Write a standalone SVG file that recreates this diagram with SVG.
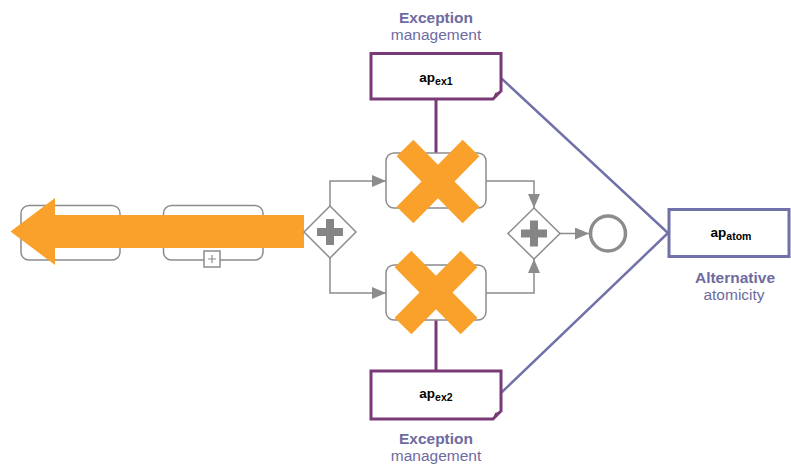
<svg xmlns="http://www.w3.org/2000/svg" width="791" height="465" viewBox="0 0 791 465">
<defs>
<style>
.task{fill:#fff;stroke:#8c8c8c;stroke-width:1.5}
.flow{fill:none;stroke:#8c8c8c;stroke-width:1.5}
.gw{fill:#fff;stroke:#8c8c8c;stroke-width:1.5}
.plus{fill:#858585}
.purp{fill:#fff;stroke:#7a3a78;stroke-width:3}
.plink{stroke:#7a3a78;stroke-width:3}
.blink{fill:none;stroke:#7071a8;stroke-width:2.5}
.lbl{font-family:"Liberation Sans",Arial,sans-serif;fill:#6d6b9f;font-size:15.5px;text-anchor:middle}
.ap{font-family:"Liberation Sans",Arial,sans-serif;font-weight:bold;fill:#000;font-size:13.5px;text-anchor:middle}
.x{stroke:#f9a12b;stroke-width:23.5;stroke-linecap:butt}
</style>
<marker id="ah" viewBox="0 0 14 12" refX="14" refY="6" markerWidth="14" markerHeight="12" markerUnits="userSpaceOnUse" orient="auto">
<path d="M0,0 L14,6 L0,12 Z" fill="#8c8c8c"/>
</marker>
</defs>

<g id="connectors">
<path class="flow" d="M330,206 V181 H386" marker-end="url(#ah)"/>
<path class="flow" d="M330,258 V293 H386" marker-end="url(#ah)"/>
<path class="flow" d="M486,181 H534 V208" marker-end="url(#ah)"/>
<path class="flow" d="M486,293 H534 V259" marker-end="url(#ah)"/>
<path class="flow" d="M560,233.5 H589" marker-end="url(#ah)"/>
<line class="plink" x1="436" y1="99" x2="436" y2="153"/>
<line class="plink" x1="436" y1="320" x2="436" y2="371"/>
<path class="blink" d="M501,78 L668,233 L501,393"/>
</g>

<g id="task1">
<rect class="task" x="21" y="205.5" width="99" height="54.5" rx="8"/>
</g>
<g id="task2">
<rect class="task" x="163.5" y="205.5" width="99.5" height="54.5" rx="8"/>
<rect class="task" x="204" y="251" width="16" height="16" stroke-width="1.2"/>
<path d="M212,255 V263 M208,259 H216" stroke="#8c8c8c" stroke-width="1.2"/>
</g>

<g id="orange-arrow">
<path d="M304,215 H55 V198 L10.5,231.5 L55,265 V248 H304 Z" fill="#f9a12b"/>
</g>

<g id="fork">
<path class="gw" d="M330,206 L356,232 L330,258 L304,232 Z"/>
<rect class="plus" x="317" y="228" width="26" height="8"/>
<rect class="plus" x="326" y="219" width="8" height="26"/>
</g>

<g id="sub1">
<rect class="task" x="386" y="153" width="100" height="55" rx="8"/>
<line class="x" x1="405" y1="148" x2="471" y2="215"/>
<line class="x" x1="471" y1="148" x2="405" y2="215"/>
</g>

<g id="sub2">
<rect class="task" x="386" y="265" width="100" height="55" rx="8"/>
<line class="x" x1="403" y1="259" x2="469" y2="326"/>
<line class="x" x1="469" y1="259" x2="403" y2="326"/>
</g>

<g id="join">
<path class="gw" d="M534,208 L560,233.5 L534,259 L508,233.5 Z"/>
<rect class="plus" x="521" y="229.5" width="26" height="8"/>
<rect class="plus" x="530" y="220.5" width="8" height="26"/>
</g>

<g id="end">
<circle cx="608" cy="233.5" r="17.5" fill="#fff" stroke="#8c8c8c" stroke-width="3.5"/>
</g>

<g id="apex1">
<text class="lbl" x="436" y="23" font-weight="bold">Exception</text>
<text class="lbl" x="436" y="40">management</text>
<path class="purp" d="M371,53.5 H501 V91 L493,99 H371 Z"/>
<path d="M501,91 L493,99 L495,93 Z" fill="#7a3a78"/>
<text class="ap" x="436" y="82">ap<tspan font-size="10.5" dy="3">ex1</tspan></text>
</g>

<g id="apex2">
<path class="purp" d="M371,371 H501 V411 L493,419 H371 Z"/>
<path d="M501,411 L493,419 L495,413 Z" fill="#7a3a78"/>
<text class="ap" x="436" y="398">ap<tspan font-size="10.5" dy="3">ex2</tspan></text>
<text class="lbl" x="436" y="444" font-weight="bold">Exception</text>
<text class="lbl" x="436" y="461">management</text>
</g>

<g id="apatom">
<rect x="669" y="209.5" width="120" height="47" fill="#fff" stroke="#7071a8" stroke-width="3"/>
<text class="ap" x="731" y="237">ap<tspan font-size="10.5" dy="3">atom</tspan></text>
<text class="lbl" x="735" y="283" font-weight="bold">Alternative</text>
<text class="lbl" x="734" y="300">atomicity</text>
</g>
</svg>
